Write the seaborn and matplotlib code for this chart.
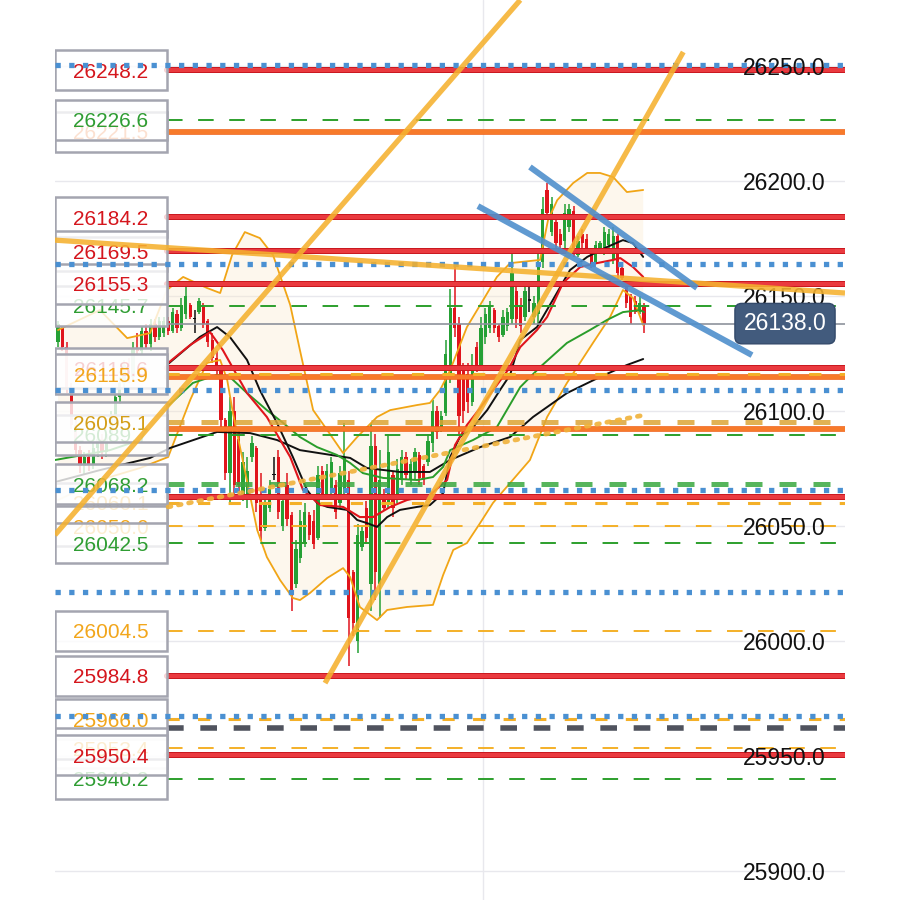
import numpy as np
import matplotlib
matplotlib.use("Agg")
import matplotlib.pyplot as plt
import matplotlib.patheffects as pe
from matplotlib.patches import Rectangle
from matplotlib.transforms import blended_transform_factory
import seaborn as sns

# --- Candles, left to right (one per bar index) ---
opens = [26130, 26136, 26128, 26110, 26094, 26083, 26076, 26080, 26077, 26084,
         26088, 26082, 26090, 26098, 26106, 26112, 26120, 26115, 26127, 26126,
         26135, 26129, 26138, 26132, 26134, 26139, 26135, 26142, 26136, 26142,
         26146, 26140, 26143, 26146, 26139, 26131, 26123, 26118, 26096, 26073,
         26100, 26088, 26064, 26062, 26080, 26084, 26062, 26049, 26058, 26072,
         26080, 26050, 26068, 26055, 26025, 26036, 26043, 26055, 26052, 26045,
         26074, 26064, 26066, 26068, 26060, 26066, 26070, 26030, 26000, 26041,
         26058, 26025, 26085, 26025, 26064, 26060, 26072, 26062, 26070, 26080,
         26070, 26074, 26081, 26076, 26078, 26086, 26100, 26092, 26099, 26115,
         26145, 26138, 26118, 26116, 26104, 26128, 26120, 26132, 26136, 26144,
         26137, 26133, 26137, 26140, 26152, 26146, 26141, 26148, 26141, 26142,
         26165, 26196, 26178, 26182, 26177, 26174, 26180, 26187, 26168, 26177,
         26175, 26170, 26165, 26171, 26170, 26172, 26166, 26176, 26162, 26155,
         26150, 26148, 26143, 26146]
highs = [26139, 26137, 26130, 26112, 26097, 26085, 26082, 26083, 26086, 26090,
         26090, 26092, 26100, 26108, 26115, 26122, 26123, 26130, 26134, 26137,
         26138, 26140, 26140, 26141, 26141, 26141, 26145, 26144, 26149, 26154,
         26147, 26144, 26149, 26147, 26140, 26134, 26126, 26119, 26097, 26106,
         26106, 26093, 26082, 26080, 26089, 26085, 26073, 26064, 26070, 26080,
         26083, 26064, 26073, 26056, 26044, 26057, 26060, 26056, 26057, 26076,
         26076, 26077, 26080, 26070, 26076, 26095, 26074, 26031, 26051, 26050,
         26061, 26095, 26090, 26083, 26066, 26090, 26074, 26079, 26083, 26082,
         26079, 26084, 26082, 26077, 26090, 26105, 26102, 26100, 26131, 26153,
         26164, 26141, 26121, 26121, 26125, 26130, 26141, 26145, 26148, 26145,
         26138, 26144, 26145, 26170, 26154, 26149, 26156, 26154, 26150, 26170,
         26193, 26199, 26193, 26183, 26179, 26190, 26190, 26189, 26176, 26179,
         26177, 26171, 26174, 26174, 26180, 26179, 26180, 26177, 26164, 26156,
         26151, 26150, 26150, 26147]
lows = [26128, 26126, 26108, 26092, 26080, 26073, 26072, 26074, 26075, 26080,
        26079, 26080, 26088, 26095, 26103, 26110, 26112, 26113, 26124, 26125,
        26127, 26126, 26130, 26131, 26132, 26133, 26134, 26134, 26135, 26140,
        26140, 26134, 26142, 26136, 26128, 26121, 26116, 26093, 26070, 26060,
        26063, 26064, 26061, 26058, 26078, 26056, 26044, 26048, 26056, 26070,
        26053, 26048, 26050, 26013, 26023, 26034, 26041, 26044, 26040, 26044,
        26062, 26062, 26064, 26053, 26058, 26063, 25989, 26002, 25995, 26039,
        26042, 26013, 26018, 26010, 26057, 26058, 26054, 26060, 26068, 26070,
        26068, 26070, 26068, 26068, 26076, 26082, 26088, 26091, 26098, 26112,
        26132, 26090, 26095, 26099, 26102, 26117, 26118, 26129, 26134, 26134,
        26130, 26132, 26135, 26138, 26136, 26134, 26139, 26143, 26138, 26138,
        26162, 26183, 26176, 26171, 26171, 26171, 26178, 26167, 26167, 26171,
        26169, 26162, 26164, 26170, 26168, 26170, 26164, 26157, 26157, 26145,
        26138, 26142, 26142, 26134]
closes = [26138, 26128, 26110, 26094, 26083, 26076, 26080, 26077, 26084, 26088,
          26082, 26090, 26098, 26106, 26112, 26120, 26115, 26127, 26126, 26135,
          26129, 26138, 26132, 26139, 26139, 26135, 26143, 26136, 26146, 26150,
          26141, 26140, 26148, 26138, 26130, 26123, 26118, 26096, 26073, 26100,
          26068, 26068, 26078, 26074, 26086, 26060, 26048, 26060, 26066, 26072,
          26056, 26061, 26053, 26020, 26040, 26052, 26056, 26046, 26042, 26072,
          26064, 26074, 26078, 26056, 26073, 26080, 26010, 26008, 26046, 26048,
          26045, 26085, 26030, 26070, 26058, 26082, 26058, 26075, 26080, 26072,
          26077, 26082, 26071, 26070, 26087, 26100, 26091, 26098, 26125, 26145,
          26136, 26098, 26100, 26104, 26120, 26120, 26136, 26142, 26146, 26136,
          26132, 26141, 26143, 26160, 26140, 26137, 26152, 26148, 26147, 26165,
          26188, 26186, 26190, 26173, 26172, 26186, 26188, 26170, 26174, 26173,
          26170, 26164, 26172, 26173, 26178, 26177, 26176, 26160, 26158, 26147,
          26141, 26143, 26147, 26138]

# --- Indicator lines (bar index, price) ---
ma_fast_red_x = [25.0, 30.0, 34.5, 37.4, 42.9, 47.4, 52.7, 55.6, 59.5, 64.7, 68.5, 71.5, 75.4, 79.2, 84.4,
                 88.3, 90.1, 92.8, 95.8, 99.6, 102.1, 104.9, 108.7, 111.0, 114.6, 118.5, 122.3, 126.0, 127.6, 130.5, 132.8]
ma_fast_red_y = [26120.9, 26128.7, 26134.3, 26126.5, 26107.8, 26097.4, 26080.0, 26065.7, 26059.1, 26058.3, 26053.9,
                 26053.9, 26058.3, 26061.3, 26063.5, 26070.0, 26085.2, 26093.9, 26101.3, 26111.3, 26117.8, 26127.8,
                 26135.2, 26140.9, 26155.7, 26162.6, 26164.3, 26165.7, 26166.5, 26162.6, 26158.3]
ma_fast_black_x = [24.7, 32.2, 36.1, 39.0, 42.9, 45.8, 49.7, 53.3, 56.5, 58.8, 61.1, 65.6, 67.9, 70.1, 72.4, 74.7,
                   77.6, 81.5, 84.4, 87.4, 89.0, 91.2, 94.2, 97.4, 100.3, 102.6, 104.9, 108.7, 112.3, 116.2, 120.1,
                   124.6, 128.2, 130.5, 132.8]
ma_fast_black_y = [26120.0, 26132.2, 26136.5, 26132.2, 26122.2, 26109.1, 26094.8, 26080.0, 26065.7, 26060.0, 26058.3,
                   26057.0, 26052.6, 26051.3, 26049.6, 26053.9, 26057.0, 26058.3, 26059.1, 26064.3, 26080.0, 26088.7,
                   26093.0, 26100.4, 26109.1, 26115.7, 26130.9, 26136.5, 26148.3, 26161.3, 26167.0, 26171.3, 26174.3,
                   26173.0, 26167.0]
ma_mid_green_x = [-0.7, 5.7, 11.8, 18.6, 24.7, 30.6, 36.1, 39.0, 42.9, 47.4, 51.1, 54.9, 58.8, 63.3, 66.3, 69.2,
                  73.8, 81.5, 85.1, 87.4, 89.0, 94.2, 99.6, 104.9, 109.4, 115.5, 120.7, 124.6, 128.2, 132.1, 133.0]
ma_mid_green_y = [26078.7, 26080.9, 26083.0, 26087.4, 26101.7, 26112.2, 26115.7, 26114.8, 26107.8, 26100.4, 26094.8,
                  26088.7, 26084.3, 26080.9, 26077.4, 26073.0, 26070.9, 26070.0, 26071.3, 26075.7, 26083.0, 26087.4,
                  26093.0, 26110.4, 26119.1, 26129.6, 26135.2, 26139.6, 26143.0, 26143.9, 26143.0]
ma_slow_black_x = [-0.7, 9.5, 20.9, 25.4, 36.1, 43.6, 49.7, 54.9, 66.3, 70.1, 77.6, 84.4, 89.0, 95.8, 102.6, 107.8,
                   115.5, 123.0, 129.1, 132.8]
ma_slow_black_y = [26069.1, 26074.3, 26079.6, 26083.9, 26090.9, 26090.4, 26087.4, 26083.0, 26079.6, 26075.2, 26073.5,
                   26073.5, 26078.7, 26084.3, 26088.7, 26097.4, 26107.8, 26114.8, 26120.0, 26122.6]
band_upper_x = [0.0, 9.5, 15.7, 20.9, 24.7, 28.4, 33.8, 36.8, 39.5, 42.4, 45.8, 48.8, 52.7, 54.9, 57.9, 61.1, 64.7,
                67.9, 72.4, 75.4, 81.5, 84.4, 86.7, 89.0, 92.8, 96.5, 99.6, 102.6, 109.4, 111.2, 113.3, 116.9,
                120.1, 123.0, 126.0, 129.1, 132.8]
band_upper_y = [26135.2, 26143.9, 26131.7, 26133.9, 26152.6, 26158.3, 26153.5, 26151.3, 26167.8, 26177.8, 26175.2,
                26167.8, 26146.1, 26126.5, 26100.4, 26091.7, 26081.7, 26088.7, 26097.4, 26100.4, 26102.6, 26103.5,
                26109.1, 26117.8, 26136.5, 26148.3, 26158.3, 26164.3, 26165.7, 26183.0, 26191.7, 26199.1, 26203.5,
                26203.5, 26201.7, 26195.2, 26196.1]
band_lower_x = [0.0, 9.5, 18.6, 25.0, 30.0, 33.8, 36.8, 38.4, 39.7, 45.2, 47.4, 50.4, 53.3, 54.9, 57.2, 61.1, 64.7,
                66.3, 68.5, 72.4, 74.7, 79.2, 85.1, 87.4, 89.7, 92.8, 95.8, 98.7, 102.6, 107.1, 111.0, 115.5, 121.4,
                125.3, 128.2, 130.5, 132.8]
band_lower_y = [26061.3, 26070.0, 26075.2, 26080.0, 26104.8, 26120.9, 26122.2, 26113.5, 26099.1, 26048.3, 26036.5,
                26026.5, 26018.7, 26017.8, 26020.9, 26027.4, 26031.7, 26027.8, 26014.8, 26009.1, 26013.5, 26014.8,
                26015.7, 26028.7, 26039.6, 26042.6, 26051.3, 26060.0, 26068.7, 26078.7, 26097.4, 26112.2, 26129.6,
                26140.9, 26152.6, 26149.1, 26137.4]

# --- Drawn trend lines (bar index, price end points) ---
orange_trend_x = [[-0.7, 104.9], [60.6, 141.9], [-0.7, 178.6]]
orange_trend_y = [[26046.1, 26278.7], [25981.7, 26256.1], [26174.3, 26151.3]]
dotted_trend_x = [25.0, 133.2]
dotted_trend_y = [26058.3, 26098.3]
blue_trend_x = [[107.1, 145.0], [95.3, 157.5]]
blue_trend_y = [[26206.1, 26153.5], [26189.1, 26124.3]]

# --- Horizontal levels ---
red_levels = [26248.2, 26184.2, 26169.5, 26155.3, 26118.6, 26062.4, 25984.8, 25950.4]
orange_levels = [26221.5, 26114.6, 26092.3]
green_levels = [26226.6, 26145.7, 26089.7, 26042.5, 25940.2]
green_bold_levels = [26068.2]
gold_levels = [26095.1]
yellow_levels = [26115.9, 26060.1, 25966.0]
yellow_thin_levels = [26050.0, 26004.5, 25953.4]
blue_levels = [26250.6, 26163.9, 26109.2, 26065.6, 26021.4, 25967.4]
gray_dash_levels = [25962.2]
last_price = 26138.0

# --- Left label boxes (behind ones first) ---
back_labels = [26221.5, 26118.6, 26089.7, 26060.1, 26050.0, 25966.0, 25953.4, 26145.7]
back_kinds = ["orange", "red", "green", "yellow", "yellow", "yellow", "yellow", "green"]
front_labels = [26248.2, 26226.6, 26184.2, 26169.5, 26155.3, 26115.9, 26095.1, 26068.2,
                26042.5, 26004.5, 25984.8, 25940.2, 25950.4]
front_kinds = ["red", "green", "red", "red", "red", "yellow", "gold", "green",
               "green", "yellow", "red", "green", "red"]

y_ticks = [26250.0, 26200.0, 26150.0, 26100.0, 26050.0, 26000.0, 25950.0, 25900.0]
time_grid_x = 96.5

# --- Style ---
sns.set_theme(style="white")
plt.rcParams['font.family'] = ['Liberation Sans', 'DejaVu Sans']

label_colors = {"red": "#d5161d", "green": "#2f9d33", "yellow": "#f2a61b",
                "gold": "#d49e17", "orange": "#f26b1d"}
UP, DOWN, FLAT = "#25a035", "#e0141c", "#111111"

fig = plt.figure(figsize=(9, 9), dpi=100)
ax = fig.add_axes([55 / 900, 0, 790 / 900, 1])
ax.set_xlim(-0.68, 178.6)
ax.set_ylim(25887.4, 26278.7)
for s in ax.spines.values():
    s.set_visible(False)
ax.set_xticks([])
ax.set_yticks([])

trans = blended_transform_factory(ax.transAxes, ax.transData)
box_w = 112 / 790
box_h = 17.4

# grid
for t in y_ticks:
    ax.axhline(t, color="#e8e8ed", lw=1.0, zorder=0.5)
ax.axvline(time_grid_x, color="#e8e8ed", lw=1.0, zorder=0.5)

# bollinger fill
ax.fill(np.concatenate([band_upper_x, band_lower_x[::-1]]),
        np.concatenate([band_upper_y, band_lower_y[::-1]]),
        color="#fbe9cc", alpha=0.35, lw=0, zorder=1)

# candles
idx = np.arange(len(closes))
o, h, l, c = map(np.array, (opens, highs, lows, closes))
cols = np.where(c > o, UP, np.where(c < o, DOWN, FLAT))
ax.vlines(idx, l, h, colors=cols, lw=1.1, zorder=3)
ax.bar(idx, np.maximum(np.abs(c - o), 0.6), bottom=np.minimum(o, c), width=0.75,
       color=cols, lw=0, zorder=3.1)

# indicator lines
for xs, ys, col, lw in [(band_upper_x, band_upper_y, "#f1a516", 1.3),
                        (band_lower_x, band_lower_y, "#f1a516", 1.3),
                        (ma_slow_black_x, ma_slow_black_y, "#111111", 1.4),
                        (ma_mid_green_x, ma_mid_green_y, "#2a9d2a", 1.4),
                        (ma_fast_black_x, ma_fast_black_y, "#111111", 1.4),
                        (ma_fast_red_x, ma_fast_red_y, "#e0151c", 1.5)]:
    sns.lineplot(x=xs, y=ys, color=col, lw=lw, ax=ax, sort=False, estimator=None,
                 legend=False, zorder=4)

# horizontal levels (start at the label box edge)
for v in red_levels:
    ax.axhline(v, xmin=box_w, xmax=1, color="#ea3a3f", lw=3.0, zorder=5,
               path_effects=[pe.Stroke(linewidth=4.3, foreground="#c8141b"), pe.Normal()])
for v in orange_levels:
    ax.axhline(v, xmin=box_w, xmax=1, color="#f77a2a", lw=3.0, zorder=5,
               path_effects=[pe.Stroke(linewidth=4.0, foreground="#ef5d12"), pe.Normal()])
for v in green_levels:
    ax.axhline(v, xmin=box_w, xmax=1, color="#2c9f2c", lw=1.4, ls=(0, (8, 8)), zorder=5)
for v in green_bold_levels:
    ax.axhline(v, xmin=box_w, xmax=1, color="#3aa83f", alpha=0.85, lw=3.6, ls=(0, (3.4, 3.4)), zorder=5)
for v in gold_levels:
    ax.axhline(v, xmin=box_w, xmax=1, color="#dca536", alpha=0.85, lw=3.6, ls=(0, (3.4, 3.4)), zorder=5)
for v in yellow_levels:
    ax.axhline(v, xmin=box_w, xmax=1, color="#f4b028", lw=2.2, ls=(0, (4, 6)), zorder=5)
for v in yellow_thin_levels:
    ax.axhline(v, xmin=box_w, xmax=1, color="#f4b028", lw=1.4, ls=(0, (8, 8)), zorder=5)
for v in gray_dash_levels:
    ax.axhline(v, xmin=box_w, xmax=1, color="#50535e", lw=4.0, ls=(0, (3, 3)), zorder=5)
ax.axhline(last_price, xmin=box_w, xmax=1, color="#8d929c", lw=1.2, zorder=5)

# label boxes (semi-transparent, so covered labels show through faintly)
z = 6
for vals, kinds in [(back_labels, back_kinds), (front_labels, front_kinds)]:
    for v, k in zip(vals, kinds):
        ax.add_patch(Rectangle((0, v - box_h / 2), box_w, box_h, transform=trans,
                               fc=(1, 1, 1, 0.8), ec="#a4a5b0", lw=1.8, zorder=z))
        ax.text(box_w / 2, v, f"{v:.1f}", transform=trans, ha="center", va="center_baseline",
                fontsize=15, color=label_colors[k], zorder=z + 0.5)
        z += 1

# blue dotted levels sit on top of the boxes
for v in blue_levels:
    ax.axhline(v, color="#4a90d2", lw=3.8, ls=(0, (1.0, 1.6)), zorder=40)

# right side price scale
for t in y_ticks:
    ax.text((826 - 55) / 790, t, f"{t:.1f}", transform=trans, ha="right", va="center_baseline",
            fontsize=16.5, color="#111111", zorder=41)

# trend lines
for xs, ys in zip(orange_trend_x, orange_trend_y):
    ax.plot(xs, ys, color="#f5b12e", alpha=0.88, lw=3.8, solid_capstyle="butt", zorder=42)
ax.plot(dotted_trend_x, dotted_trend_y, color="#f0b23a", lw=3.4, ls=(0, (0.6, 1.6)),
        dash_capstyle="round", alpha=0.9, zorder=42)
for xs, ys in zip(blue_trend_x, blue_trend_y):
    ax.plot(xs, ys, color="#4f8fcc", alpha=0.9, lw=4.3, solid_capstyle="butt", zorder=43)

# last price tag
ax.text((785 - 55) / 790, last_price, f"{last_price:.1f}", transform=trans, ha="center",
        va="center", fontsize=16.5, color="white", zorder=50,
        bbox=dict(boxstyle="round,pad=0.38,rounding_size=0.3", fc="#425b7d", ec="#33496a", lw=1))

fig.savefig("out.png", dpi=100)
